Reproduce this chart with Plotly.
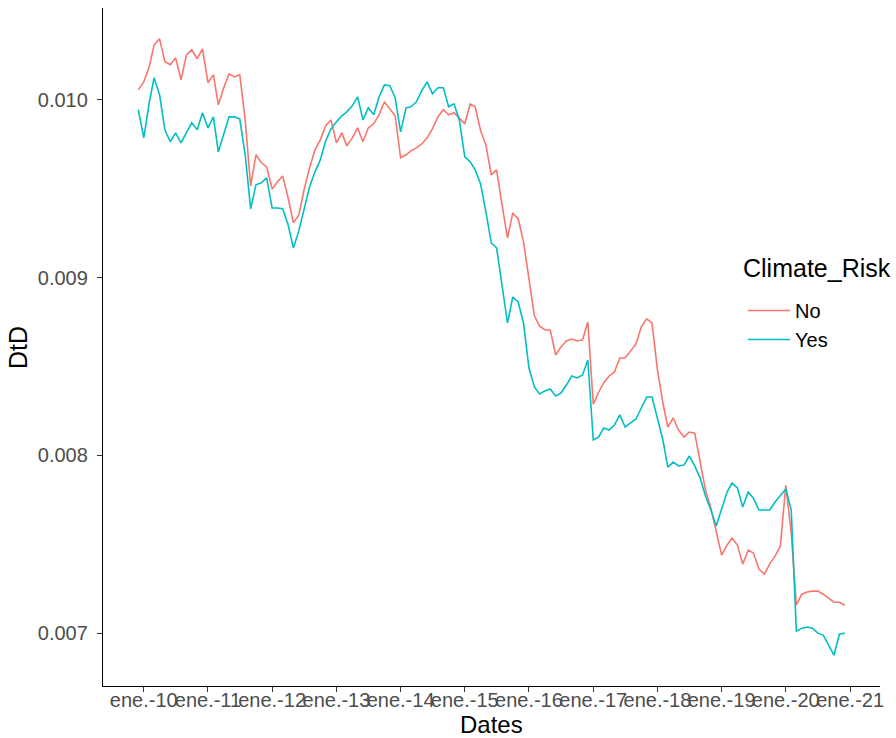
import pandas as pd
import plotly.graph_objects as go

# Monthly observations, Dec 2009 .. Dec 2020
start_month = "2009-12-01"
n_months = 133

dtd_no = [
    0.010056, 0.010101, 0.010186, 0.010309, 0.010343, 0.010214, 0.010197, 0.010236, 0.010113, 0.010253, 0.010281, 0.010231, 0.010287,
    0.010096, 0.010141, 0.009972, 0.010068, 0.010146, 0.010129, 0.010141, 0.009887, 0.009516, 0.009691, 0.009646, 0.009623,
    0.009499, 0.009539, 0.009572, 0.009449, 0.009308, 0.009353, 0.009494, 0.009617, 0.009719, 0.009775, 0.009854, 0.009887,
    0.009758, 0.009814, 0.009741, 0.009786, 0.009842, 0.009764, 0.009842, 0.009865, 0.009916, 0.009989, 0.009949, 0.009910,
    0.009674, 0.009691, 0.009713, 0.009730, 0.009752, 0.009786, 0.009837, 0.009904, 0.009944, 0.009916, 0.009927, 0.009899,
    0.009865, 0.009977, 0.009961, 0.009826, 0.009747, 0.009578, 0.009606, 0.009409, 0.009223, 0.009364, 0.009330, 0.009201,
    0.008987, 0.008785, 0.008728, 0.008706, 0.008706, 0.008565, 0.008610, 0.008644, 0.008655, 0.008644, 0.008650, 0.008751,
    0.008289, 0.008357, 0.008408, 0.008447, 0.008469, 0.008548, 0.008548, 0.008588, 0.008627, 0.008723, 0.008768, 0.008745,
    0.008481, 0.008295, 0.008160, 0.008211, 0.008143, 0.008104, 0.008132, 0.008126, 0.007974, 0.007806, 0.007704, 0.007575,
    0.007440, 0.007496, 0.007535, 0.007496, 0.007389, 0.007468, 0.007451, 0.007361, 0.007333, 0.007389, 0.007434, 0.007490,
    0.007834, 0.007563, 0.007158, 0.007220, 0.007232, 0.007237, 0.007237, 0.007220, 0.007198, 0.007175, 0.007175, 0.007158,
]

dtd_yes = [
    0.009944, 0.009786, 0.009983, 0.010124, 0.010028, 0.009831, 0.009764, 0.009814, 0.009758, 0.009814, 0.009871, 0.009831, 0.009927,
    0.009842, 0.009904, 0.009707, 0.009803, 0.009904, 0.009904, 0.009893, 0.009691, 0.009387, 0.009522, 0.009533, 0.009561,
    0.009392, 0.009392, 0.009387, 0.009297, 0.009167, 0.009263, 0.009392, 0.009510, 0.009595, 0.009662, 0.009769, 0.009837,
    0.009876, 0.009910, 0.009932, 0.009966, 0.010017, 0.009887, 0.009955, 0.009916, 0.010017, 0.010084, 0.010079, 0.010011,
    0.009820, 0.009955, 0.009961, 0.009989, 0.010051, 0.010101, 0.010034, 0.010068, 0.010068, 0.009961, 0.009977, 0.009887,
    0.009679, 0.009651, 0.009606, 0.009527, 0.009370, 0.009195, 0.009167, 0.008942, 0.008745, 0.008891, 0.008863, 0.008745,
    0.008492, 0.008385, 0.008346, 0.008363, 0.008374, 0.008334, 0.008351, 0.008396, 0.008447, 0.008436, 0.008453, 0.008537,
    0.008087, 0.008104, 0.008154, 0.008143, 0.008171, 0.008228, 0.008160, 0.008183, 0.008205, 0.008267, 0.008329, 0.008329,
    0.008205, 0.008087, 0.007935, 0.007963, 0.007941, 0.007946, 0.007997, 0.007941, 0.007873, 0.007772, 0.007693, 0.007603,
    0.007699, 0.007794, 0.007845, 0.007817, 0.007710, 0.007794, 0.007760, 0.007693, 0.007693, 0.007693, 0.007738, 0.007777,
    0.007811, 0.007693, 0.007012, 0.007029, 0.007035, 0.007029, 0.007001, 0.006990, 0.006928, 0.006877, 0.006995, 0.007001,
]

tick_dates = [f"{y}-01-01" for y in range(2010, 2022)]
tick_labels = ["ene.-10", "ene.-11", "ene.-12", "ene.-13", "ene.-14", "ene.-15",
               "ene.-16", "ene.-17", "ene.-18", "ene.-19", "ene.-20", "ene.-21"]
y_ticks = [0.007, 0.008, 0.009, 0.010]
y_tick_labels = ["0.007", "0.008", "0.009", "0.010"]

dates = pd.date_range(start_month, periods=n_months, freq="MS")

FONT = "Liberation Sans, Arial, sans-serif"

fig = go.Figure()
fig.add_trace(go.Scatter(x=dates, y=dtd_no, mode="lines", name="No",
                         line=dict(color="#F8766D", width=1.6)))
fig.add_trace(go.Scatter(x=dates, y=dtd_yes, mode="lines", name="Yes",
                         line=dict(color="#00BFC4", width=1.6)))

# ggplot-style 5% expansion on both axes
span = dates[-1] - dates[0]
x_range = [dates[0] - 0.05 * span, dates[-1] + 0.05 * span]
all_y = dtd_no + dtd_yes
y_lo, y_hi = min(all_y), max(all_y)
y_pad = 0.05 * (y_hi - y_lo)
y_range = [y_lo - y_pad, y_hi + y_pad]

axis_common = dict(
    showline=True, linecolor="#000000", linewidth=1.3,
    showgrid=False, zeroline=False,
    ticks="outside", ticklen=5, tickwidth=1.2, tickcolor="#333333",
    tickfont=dict(family=FONT, size=20, color="#4D4D4D"),
    automargin=False,
)

title_font = dict(family=FONT, size=25, color="black")

fig.update_layout(
    width=896, height=738,
    paper_bgcolor="white", plot_bgcolor="white",
    margin=dict(l=103, r=16, t=8, b=52),
    font=dict(family=FONT, color="black"),
    xaxis=dict(
        **axis_common,
        range=x_range,
        tickangle=0,
        ticklabelstandoff=-9,
        tickvals=tick_dates, ticktext=tick_labels,
    ),
    yaxis=dict(
        **axis_common,
        range=y_range,
        ticklabelstandoff=5,
        tickvals=y_ticks, ticktext=y_tick_labels,
    ),
    legend=dict(
        font=dict(family=FONT, size=20, color="black"),
        x=0.8237, y=0.5826, xanchor="left", yanchor="top",
        itemwidth=42,
        bgcolor="rgba(0,0,0,0)", borderwidth=0,
        tracegroupgap=4,
    ),
    showlegend=True,
    annotations=[
        dict(text="Dates", xref="paper", yref="paper", x=0.5, y=-0.0575,
             xanchor="center", yanchor="middle", showarrow=False,
             font=dict(family=FONT, size=24, color="black")),
        dict(text="DtD", xref="paper", yref="paper", x=-0.1094, y=0.5,
             xanchor="center", yanchor="middle", textangle=-90, showarrow=False,
             font=title_font),
        dict(text="Climate_Risk", xref="paper", yref="paper", x=0.8211, y=0.6165,
             xanchor="left", yanchor="middle", showarrow=False, font=title_font),
    ],
)

fig.write_html("out.html")
